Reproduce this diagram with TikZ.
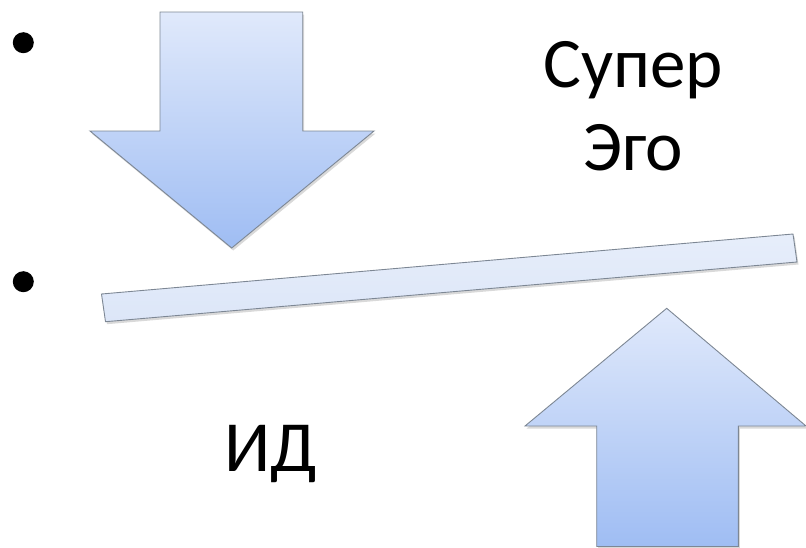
\documentclass[tikz,border=0pt]{standalone}
\usepackage{fontspec}
\setmainfont{Carlito}
\usetikzlibrary{shadows}
\definecolor{arrtop}{HTML}{E0E9FB}
\definecolor{arrbot}{HTML}{9FBDF3}
\definecolor{barfill}{HTML}{DCE6F8}
\definecolor{edge}{HTML}{7D8794}
\tikzset{
  bigarrow/.style={draw=edge, line width=0.9pt, line join=miter,
    top color=arrtop, bottom color=arrbot,
    drop shadow={opacity=0.3, shadow xshift=1.5pt, shadow yshift=-2.5pt}},
  barshape/.style={draw=edge, line width=0.9pt, top color=barfill!70!white, bottom color=barfill,
    drop shadow={opacity=0.3, shadow xshift=1.5pt, shadow yshift=-2.5pt}},
  bulletdot/.style={circle, fill=black, inner sep=0pt, minimum size=21pt},
  lbl/.style={anchor=base, inner sep=0pt, font=\fontsize{71}{85}\selectfont},
  biglbl/.style={anchor=base, inner sep=0pt, font=\fontsize{72}{86}\selectfont}
}
\begin{document}
\begin{tikzpicture}[x=1pt, y=-1pt]
\useasboundingbox (0,0) rectangle (806,547);
% bullets
\node[bulletdot] (b1) at (23.3,42.7) {};
\node[bulletdot] (b2) at (23.3,281.7) {};
% down arrow
\shade[bigarrow] (160,12) -- (302.7,12) -- (302.7,131) -- (374,131) -- (231.7,248)
  -- (90,131) -- (160,131) -- cycle;
% bar
\shade[barshape] (101.5,294) -- (793,234) -- (797,262) -- (105.5,321.7) -- cycle;
% up arrow
\shade[bigarrow] (666.7,308.3) -- (806,426) -- (738.3,426) -- (738.3,546.5)
  -- (596.7,546.5) -- (596.7,426) -- (525,426) -- cycle;
% labels
\node[lbl] (sup) at (633.3,87) {Супер};
\node[lbl] (ego) at (633.3,170) {Эго};
\node[biglbl] (id) at (270.8,471.7) {ИД};
\end{tikzpicture}
\end{document}
